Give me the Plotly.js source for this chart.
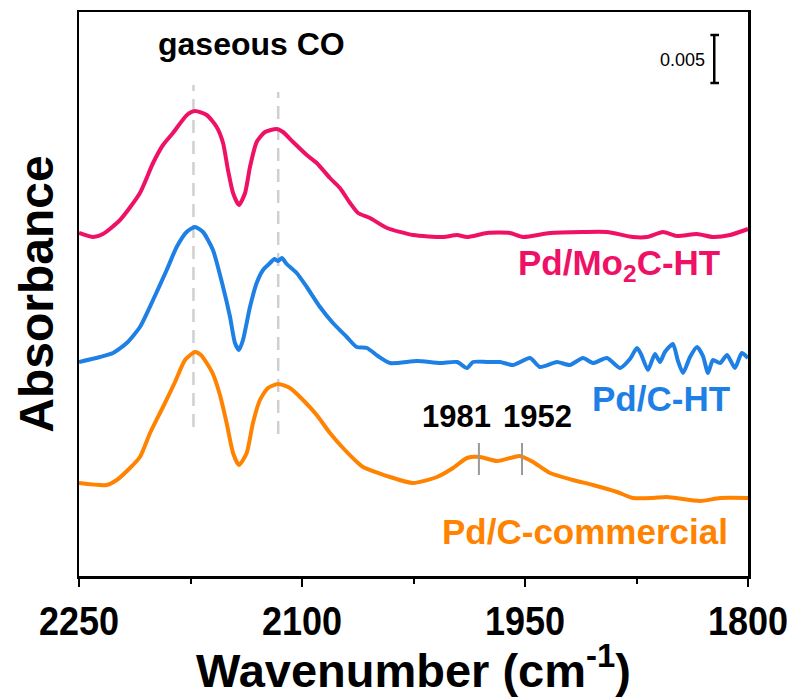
<!DOCTYPE html>
<html>
<head>
<meta charset="utf-8">
<script src="https://cdn.plot.ly/plotly-3.0.1.min.js"></script>
<style>html,body{margin:0;padding:0;background:#fff;}#chart{width:793px;height:697px;}</style>
</head>
<body>
<div id="chart"></div>
<script>
// Wavenumber (cm-1) and absorbance (offset, arbitrary units: 48 units = 0.005)
const mo2cX = [2250,2240.4,2233.9,2222.4,2209,2200.2,2193.5,2186.8,2177.4,2172,2164.1,2157.4,2153.1,2149.8,2146.4,2142.4,2138.3,2135,2130.5,2124.9,2117,2112.8,2106,2096.8,2090.1,2081.2,2074.5,2067.7,2062.3,2054.3,2042.8,2025.3,2005.2,1995.7,1989,1975.6,1960.1,1951.4,1933.2,1911,1894.9,1877.4,1868,1857.2,1847.8,1834.3,1823.6,1812.1,1800];
const mo2cY = [343,339,342,356,383,413,431,443,461,465,461,449,433,406,383,371,383,409,434,444,447,444,434,421,413,398,388,373,363,358,348,341,339,341,339,343,343,339,343,344,344,339,339,344,340,342,339,341,347];

const pdcX = [2250,2235.9,2227.1,2217.9,2209,2200.2,2191,2184.3,2177.6,2172,2166.6,2159.9,2153.1,2148.4,2145.1,2142.4,2139.7,2135,2130.5,2126.2,2121.5,2118.5,2116.1,2113.5,2110.3,2103.6,2096.8,2087.9,2079.2,2069.9,2063.2,2056.3,2049,2040.8,2022.6,2007.2,1995.7,1989,1985,1975.6,1966.8,1958.1,1946.6,1940,1928.5,1919.8,1911,1904.3,1894.9,1886.1,1879.4,1874.7,1872,1867.3,1862.6,1859.2,1855.9,1850.5,1847.1,1843.7,1839,1834.3,1830.3,1826.9,1823.6,1818.8,1814.1,1808.8,1804.2,1800];
const pdcY = [214,219,223,233,249,276,306,329,344,349,344,326,289,259,233,226,236,269,293,306,313,317,315,318,312,303,289,269,253,239,229,228,220,213,215,213,214,208,214,214,214,211,218,209,214,211,218,213,218,208,217,228,222,206,222,214,224,232,215,203,219,229,220,203,216,213,221,208,223,218];

const commX = [2250,2231.4,2224.6,2215.7,2209,2202.2,2193.5,2185.4,2178.7,2172,2168,2164.1,2159.9,2155.2,2150.7,2146.4,2142.4,2137.2,2133,2128.3,2122.9,2116.1,2108.1,2099.3,2090.1,2081.2,2072.4,2062.3,2059,2040.8,2025.3,2009.2,1998.4,1989,1980.3,1968.8,1953.4,1944.6,1933.2,1917.7,1904.3,1888.1,1877.4,1863.9,1854.5,1832.3,1818.8,1800];
const commY = [93,91,96,108,119,143,169,194,216,224,221,213,202,181,153,123,111,123,153,176,188,192,188,176,161,143,128,113,109,99,93,99,108,118,119,115,120,114,103,96,91,84,78,78,79,75,78,78];

const gasCO = [2173, 2116];
const peakMarks = [1981, 1952];
const seriesNames = ['Pd/Mo<sub>2</sub>C-HT', 'Pd/C-HT', 'Pd/C-commercial'];
const colors = ['#EE1166', '#1E80E4', '#FF8300'];
const xTicks = [2250, 2100, 1950, 1800];
const xMinorTicks = [2175, 2025, 1875];

const mk = (x, y, c, n) => ({x: x, y: y, type: 'scatter', mode: 'lines', name: n,
  line: {color: c, width: 4, shape: 'spline', smoothing: 0.6}, hoverinfo: 'skip'});
const data = [
  mk(mo2cX, mo2cY, colors[0], seriesNames[0]),
  mk(pdcX, pdcY, colors[1], seriesNames[1]),
  mk(commX, commY, colors[2], seriesNames[2])
];

const shapes = [];
const gasTop = [491, 484], gasBot = [149, 142];
gasCO.forEach((g, i) => shapes.push({type: 'line', xref: 'x', yref: 'y', x0: g, x1: g, y0: gasBot[i], y1: gasTop[i],
  line: {color: '#d0d0d0', width: 2.5, dash: '13px,8px'}, layer: 'below'}));
peakMarks.forEach(p => shapes.push({type: 'line', xref: 'x', yref: 'y', x0: p, x1: p, y0: 101, y1: 133,
  line: {color: '#999999', width: 2}}));
// scale bar
shapes.push({type: 'line', xref: 'x', yref: 'y', x0: 1822.7, x1: 1822.7, y0: 493, y1: 541, line: {color: '#000', width: 2.5}});
shapes.push({type: 'line', xref: 'x', yref: 'y', x0: 1825.3, x1: 1819.5, y0: 493, y1: 493, line: {color: '#000', width: 2.5}});
shapes.push({type: 'line', xref: 'x', yref: 'y', x0: 1825.3, x1: 1819.5, y0: 541, y1: 541, line: {color: '#000', width: 2.5}});

const F = 'Liberation Sans, Arial, sans-serif';
const annotations = [
  {x: 2134.3, y: 532, text: '<b>gaseous CO</b>', font: {family: F, size: 32, color: '#000'}},
  {x: 1827.6, y: 516, text: '0.005', xanchor: 'right', font: {family: F, size: 18, color: '#000'}},
  {x: 1996.4, y: 160, text: '<b>' + peakMarks[0] + '</b>', font: {family: F, size: 31, color: '#000'}},
  {x: 1941.3, y: 160, text: '<b>' + peakMarks[1] + '</b>', font: {family: F, size: 31, color: '#000'}},
  {x: 1817.5, y: 311, text: '<b>' + seriesNames[0] + '</b>', xanchor: 'right', font: {family: F, size: 35, color: colors[0]}},
  {x: 1810.8, y: 178, text: '<b>' + seriesNames[1] + '</b>', xanchor: 'right', font: {family: F, size: 35, color: colors[1]}},
  {x: 1812.1, y: 45, text: '<b>' + seriesNames[2] + '</b>', xanchor: 'right', font: {family: F, size: 35, color: colors[2]}}
].map(a => Object.assign({xref: 'x', yref: 'y', showarrow: false, yanchor: 'middle', xanchor: 'center'}, a));

const layout = {
  width: 793, height: 697,
  margin: {l: 79, r: 45, t: 12, b: 121, pad: 0},
  paper_bgcolor: '#fff', plot_bgcolor: '#fff',
  showlegend: false,
  xaxis: {
    range: [2250, 1800], tickvals: xTicks, ticktext: xTicks.map(String),
    ticks: 'outside', ticklen: 8, tickwidth: 2.5, tickcolor: '#000',
    minor: {tickvals: xMinorTicks, ticks: 'outside', ticklen: 5, tickwidth: 2, tickcolor: '#000', showgrid: false},
    showline: true, linecolor: '#000', linewidth: 2.5, mirror: true,
    showgrid: false, zeroline: false,
    tickfont: {family: F, size: 40, color: '#000', weight: 'bold'},
    title: {text: '<b>Wavenumber (cm<sup>-1</sup>)</b>', font: {family: F, size: 47, color: '#000'}, standoff: 12}
  },
  yaxis: {
    range: [0, 564], showticklabels: false, ticks: '',
    showline: true, linecolor: '#000', linewidth: 2.5, mirror: true,
    showgrid: false, zeroline: false,
    title: {text: '<b>Absorbance</b>', font: {family: F, size: 48, color: '#000'}, standoff: 8}
  },
  shapes: shapes,
  annotations: annotations
};

Plotly.newPlot('chart', data, layout, {staticPlot: true, displayModeBar: false}).then(() => {
  // condensed look of the tick labels, as in the reference
  document.querySelectorAll('#chart .xtick text').forEach(t => {
    const w = t.getComputedTextLength();
    t.setAttribute('textLength', (w * 0.9).toFixed(1));
    t.setAttribute('lengthAdjust', 'spacingAndGlyphs');
  });
});
</script>
</body>
</html>
